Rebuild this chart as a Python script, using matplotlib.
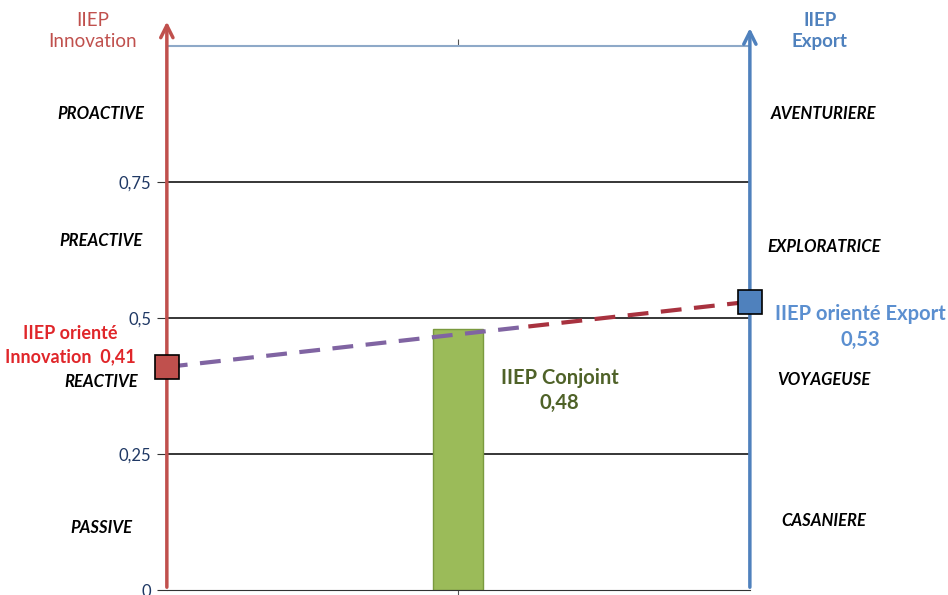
import matplotlib.pyplot as plt

# données
iiep_innovation = 0.41
iiep_export = 0.53
iiep_conjoint = 0.48
y_ticks = [0, 0.25, 0.5, 0.75]
y_labels = ["0", "0,25", "0,5", "0,75"]
cat_innovation = ["PROACTIVE", "PREACTIVE", "REACTIVE", "PASSIVE"]
pos_innovation = [0.875, 0.642, 0.382, 0.114]
cat_export = ["AVENTURIERE", "EXPLORATRICE", "VOYAGEUSE", "CASANIERE"]
pos_export = [0.875, 0.631, 0.386, 0.127]

plt.rcParams['font.family'] = ['Lato', 'DejaVu Sans']

fig = plt.figure(figsize=(9.48, 5.95), dpi=100)
ax = fig.add_axes([0.176, 0.0084, 0.615, 0.9143])
ax.set_xlim(0, 1)
ax.set_ylim(0, 1)

for s in ['left', 'right']:
    ax.spines[s].set_visible(False)
ax.spines['top'].set_color('#8EA9C8')
ax.spines['top'].set_linewidth(1.5)
ax.spines['bottom'].set_color('#333333')

# lignes horizontales
for y in y_ticks[1:]:
    ax.axhline(y, color='black', lw=1.1, zorder=1)

ax.set_yticks(y_ticks)
ax.set_yticklabels(y_labels, color='#1F3864', fontsize=12)
ax.tick_params(axis='y', length=7, color='#333333', pad=4)
ax.set_xticks([0.5])
ax.set_xticklabels([])
ax.tick_params(axis='x', length=5, color='#555555', top=True, bottom=True)

# barre conjointe
ax.bar([0.5], [iiep_conjoint], width=0.086, color='#9BBB59', edgecolor='#7A9A3E', lw=1, zorder=2)

# ligne pointillée
x_mid = 0.62
y_mid = iiep_innovation + (iiep_export - iiep_innovation) * x_mid
ax.plot([0, x_mid], [iiep_innovation, y_mid], ls=(0, (5, 3)), lw=3, color='#8064A2', zorder=3)
ax.plot([x_mid, 1], [y_mid, iiep_export], ls=(0, (5, 3)), lw=3, color='#A8323F', zorder=3)

# axes fléchés
ax.annotate('', xy=(0, 1.05), xytext=(0, 0), xycoords='data',
            arrowprops=dict(arrowstyle='->', color='#C0504D', lw=2.5, mutation_scale=22),
            annotation_clip=False, zorder=4)
ax.annotate('', xy=(1, 1.038), xytext=(1, 0), xycoords='data',
            arrowprops=dict(arrowstyle='->', color='#4F81BD', lw=2.5, mutation_scale=22),
            annotation_clip=False, zorder=4)

# marqueurs
ax.plot([0], [iiep_innovation], marker='s', ms=17, color='#C0504D', mec='black', mew=1.2,
        clip_on=False, zorder=5)
ax.plot([1], [iiep_export], marker='s', ms=17, color='#4F81BD', mec='black', mew=1.2,
        clip_on=False, zorder=5)

# titres des axes
ax.text(-0.127, 1.028, "IIEP\nInnovation", color='#C0504D', fontsize=13.5, ha='center', va='center',
        linespacing=1.25, clip_on=False)
ax.text(1.12, 1.028, "IIEP\nExport", color='#4F81BD', fontsize=13.5, ha='center', va='center',
        fontweight='bold', linespacing=1.25, clip_on=False)

# catégories
for c, p in zip(cat_innovation, pos_innovation):
    ax.text(-0.113, p, c, ha='center', va='center', fontsize=12, fontstyle='italic',
            fontweight='bold', clip_on=False)
for c, p in zip(cat_export, pos_export):
    ax.text(1.127, p, c, ha='center', va='center', fontsize=12, fontstyle='italic',
            fontweight='bold', clip_on=False)

# annotations
ax.text(-0.166, 0.45, "IIEP orienté\nInnovation  0,41", color='#E0262A', fontsize=13,
        fontweight='bold', ha='center', va='center', linespacing=1.5, clip_on=False)
ax.text(1.189, 0.483, "IIEP orienté Export\n0,53", color='#5B8FD0', fontsize=14.5,
        fontweight='bold', ha='center', va='center', linespacing=1.35, clip_on=False)
ax.text(0.674, 0.367, "IIEP Conjoint\n0,48", color='#4F6228', fontsize=14.5,
        fontweight='bold', ha='center', va='center', linespacing=1.3)

fig.savefig('out.png', dpi=100)
